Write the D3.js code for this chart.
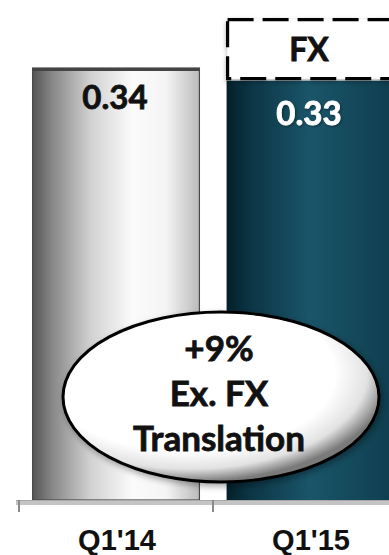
<!DOCTYPE html>
<html>
<head>
<meta charset="utf-8">
<script src="https://cdn.jsdelivr.net/npm/d3@7"></script>
<style>
  html, body { margin: 0; padding: 0; background: #fff; }
  svg { display: block; }
</style>
</head>
<body>
<div id="chart"></div>
<script>
// Quarterly values
const categories = ["Q1'14", "Q1'15"];
const values = [0.34, 0.33];
const valueLabels = ["0.34", "0.33"];
// FX translation impact stacked on top of the current quarter
const fxImpact = [0, 0.048];
const fxLabel = "FX";
const calloutLines = ["+9%", "Ex. FX", "Translation"];

const W = 389, H = 555;
const svg = d3.select("#chart").append("svg").attr("width", W).attr("height", H);
const defs = svg.append("defs");

const labelFont = "Lato, 'Open Sans', sans-serif";

// x: band scale that runs off the right edge
const x = d3.scaleBand().domain(categories).range([19, 407]).paddingInner(0.14).paddingOuter(0.07);
const y = d3.scaleLinear().domain([0, 0.34]).range([500, 68]);

// Gradients
const gGray = defs.append("linearGradient").attr("id", "gGray").attr("x1", 0).attr("x2", 1).attr("y1", 0).attr("y2", 0);
[[0, "#545454"], [0.12, "#888"], [0.35, "#d2d2d2"], [0.6, "#fbfbfb"], [0.8, "#f4f4f4"], [1, "#bbbbbb"]]
  .forEach(([o, c]) => gGray.append("stop").attr("offset", o).attr("stop-color", c));

const gTeal = defs.append("linearGradient").attr("id", "gTeal").attr("x1", 0).attr("x2", 1).attr("y1", 0).attr("y2", 0);
[[0, "#04202b"], [0.15, "#0c3646"], [0.5, "#1a5569"], [0.8, "#134759"], [1, "#0e3e4f"]]
  .forEach(([o, c]) => gTeal.append("stop").attr("offset", o).attr("stop-color", c));

const gEll = defs.append("radialGradient").attr("id", "gEll").attr("cx", 0.4).attr("cy", 0.36).attr("r", 0.64);
[[0, "#ffffff"], [0.72, "#ffffff"], [0.88, "#e2e2e2"], [1, "#7a7a7a"]]
  .forEach(([o, c]) => gEll.append("stop").attr("offset", o).attr("stop-color", c));

const shadow = defs.append("filter").attr("id", "shadow").attr("x", "-20%").attr("y", "-20%").attr("width", "140%").attr("height", "150%");
shadow.append("feDropShadow").attr("dx", 2).attr("dy", 3).attr("stdDeviation", 3).attr("flood-color", "#000").attr("flood-opacity", 0.35);

const soft = defs.append("filter").attr("id", "soft").attr("x", "-10%").attr("y", "-20%").attr("width", "120%").attr("height", "140%");
soft.append("feDropShadow").attr("dx", 0).attr("dy", 2).attr("stdDeviation", 2.5).attr("flood-color", "#000").attr("flood-opacity", 0.3);

const textShadow = defs.append("filter").attr("id", "tshadow");
textShadow.append("feDropShadow").attr("dx", 1).attr("dy", 1).attr("stdDeviation", 1).attr("flood-color", "#000").attr("flood-opacity", 0.45);

// Bars
const fills = ["url(#gGray)", "url(#gTeal)"];
svg.append("g").selectAll("rect").data(categories).join("rect")
  .attr("x", d => x(d))
  .attr("y", (d, i) => y(values[i]))
  .attr("width", x.bandwidth())
  .attr("height", (d, i) => y(0) - y(values[i]))
  .attr("fill", (d, i) => fills[i]);

// Dark rim on the grey bar
const c0 = categories[0];
svg.append("rect")
  .attr("x", x(c0)).attr("y", y(values[0]))
  .attr("width", x.bandwidth()).attr("height", y(0) - y(values[0]))
  .attr("fill", "none").attr("stroke", "#4a4a4a").attr("stroke-width", 1.2);
svg.append("rect")
  .attr("x", x(c0)).attr("y", y(values[0]))
  .attr("width", x.bandwidth()).attr("height", 3)
  .attr("fill", "#444");

// FX segment: dashed box above the current bar
categories.forEach((c, i) => {
  if (!fxImpact[i]) return;
  const top = y(values[i] + fxImpact[i]);
  const bot = y(values[i]);
  svg.append("rect")
    .attr("x", x(c) + 1).attr("y", top)
    .attr("width", x.bandwidth() - 2).attr("height", bot - top - 2)
    .attr("fill", "#fff")
    .attr("stroke", "#000").attr("stroke-width", 3.2)
    .attr("stroke-dasharray", "26,9")
    .attr("filter", "url(#soft)");
  svg.append("text")
    .attr("x", x(c) + x.bandwidth() / 2 - 1)
    .attr("y", (top + bot) / 2 + 11)
    .attr("text-anchor", "middle")
    .attr("font-family", labelFont)
    .attr("font-weight", 700).attr("font-size", 32)
    .attr("fill", "#111").attr("stroke", "#111").attr("stroke-width", 0.8)
    .text(fxLabel);
});

// Value labels
svg.append("g").selectAll("text").data(categories).join("text")
  .attr("x", d => x(d) + x.bandwidth() / 2 - 1)
  .attr("y", (d, i) => y(values[i]) + (i === 0 ? 41 : 44))
  .attr("text-anchor", "middle")
  .attr("font-family", labelFont)
  .attr("font-weight", 700).attr("font-size", 33)
  .attr("fill", (d, i) => i === 0 ? "#111" : "#fff")
  .attr("stroke", (d, i) => i === 0 ? "#111" : "#fff").attr("stroke-width", 0.8)
  .attr("filter", (d, i) => i === 0 ? null : "url(#tshadow)")
  .text((d, i) => valueLabels[i]);

// Axis baseline and ticks
const step = x.step();
const axisStart = x.range()[0];
svg.append("rect")
  .attr("x", axisStart - 3).attr("y", y(0)).attr("width", W).attr("height", 5)
  .attr("fill", "#c4c4c4");
svg.append("line")
  .attr("x1", axisStart - 3).attr("x2", W).attr("y1", y(0) + 0.5).attr("y2", y(0) + 0.5)
  .attr("stroke", "#a8a8a8").attr("stroke-width", 1);
svg.append("g").selectAll("line").data(d3.range(categories.length)).join("line")
  .attr("x1", i => axisStart + i * step).attr("x2", i => axisStart + i * step)
  .attr("y1", y(0)).attr("y2", y(0) + 12)
  .attr("stroke", "#8a8a8a").attr("stroke-width", 2);

// Category labels
svg.append("g").selectAll("text").data(categories).join("text")
  .attr("x", d => x(d) + x.bandwidth() / 2 + 1)
  .attr("y", 550)
  .attr("text-anchor", "middle")
  .attr("font-family", "'Liberation Sans', Arial, sans-serif")
  .attr("font-weight", 700).attr("font-size", 29)
  .attr("fill", "#111")
  .text(d => d);

// Callout ellipse
const cx = axisStart + step + 8, cy = 397;
const callout = svg.append("g");
callout.append("ellipse")
  .attr("cx", cx).attr("cy", cy).attr("rx", 158).attr("ry", 85)
  .attr("fill", "url(#gEll)")
  .attr("stroke", "#000").attr("stroke-width", 3)
  .attr("filter", "url(#shadow)");
callout.selectAll("text").data(calloutLines).join("text")
  .attr("x", cx - 2)
  .attr("y", (d, i) => 361 + i * 45)
  .attr("text-anchor", "middle")
  .attr("font-family", labelFont)
  .attr("font-weight", 700).attr("font-size", 35)
  .attr("fill", "#111").attr("stroke", "#111").attr("stroke-width", 0.8)
  .text(d => d);
</script>
</body>
</html>
